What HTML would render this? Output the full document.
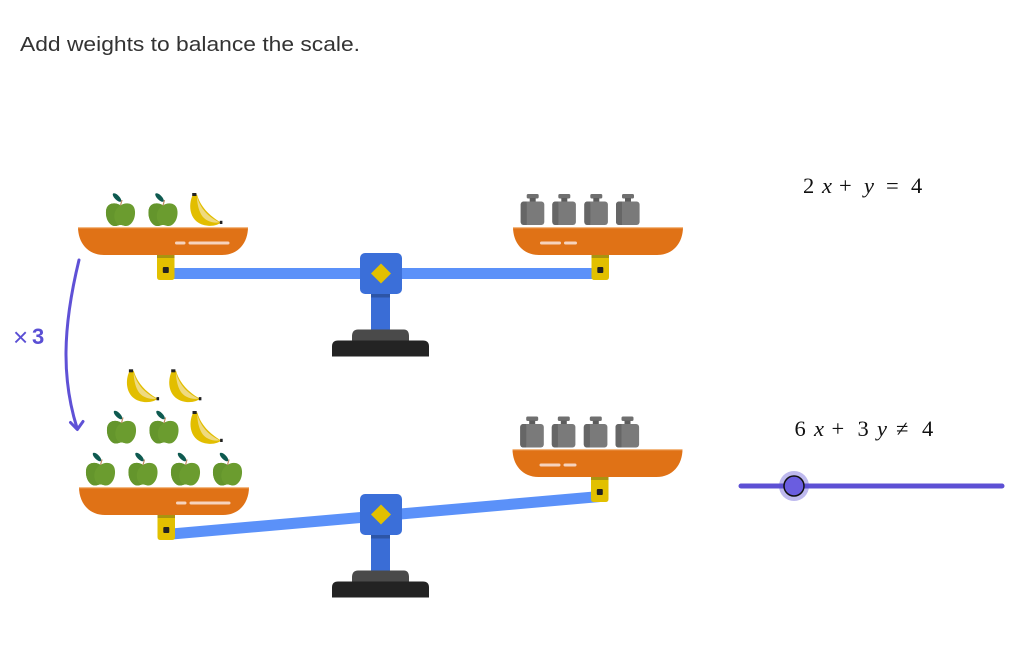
<!DOCTYPE html>
<html>
<head>
<meta charset="utf-8">
<style>
html,body{margin:0;padding:0;background:#fff;}
svg{display:block;}
</style>
</head>
<body>
<svg width="1032" height="645" viewBox="0 0 1032 645" xmlns="http://www.w3.org/2000/svg">
<defs>
  <g id="apple">
    <path d="M14.5,3.5 C11,0.5 0.5,-0.5 0,9.5 C-0.5,17.5 4,24 9,24 C11.5,24 12.5,23 14.5,23 C16.5,23 17.5,24 20,24 C25,24 29.5,17.5 29,9.5 C28.5,-0.5 18,0.5 14.5,3.5 Z" fill="#6b9c2f"/>
    <path d="M14.5,3.5 C11,0.5 0.5,-0.5 0,9.5 C-0.5,17.5 4,24 9,24 C11,24 12,23.3 13,23 C7,20 6,8 14.5,3.5Z" fill="#64952c"/>
    <line x1="14.5" y1="3.5" x2="16" y2="-2" stroke="#c08a60" stroke-width="1.2"/>
    <ellipse cx="11" cy="-4.5" rx="5.6" ry="2.3" transform="rotate(45 11 -4.5)" fill="#0e5a50"/>
  </g>
  <g id="banana">
    <path d="M4,1.5 C-1.5,12 0,31 19,32.8 C25,33.3 29.5,31.5 32,29.5 C24,25 12,16 8,1.5 Z" fill="#e2be00"/>
    <path d="M8,3.5 C11,15 19,24 30.5,29.3 C24,30.5 16,28 12.5,22 C9.5,17 8,10 8,3.5 Z" fill="#efda80"/>
    <rect x="3.2" y="0" width="4.2" height="3" fill="#222"/>
    <rect x="30.8" y="27.8" width="2.6" height="3.2" fill="#222"/>
  </g>
  <g id="weight">
    <rect x="6" y="0" width="12" height="4.5" rx="1.5" fill="#6f6f6f"/>
    <rect x="9" y="4" width="6" height="4" fill="#5c5c5c"/>
    <rect x="0" y="7.5" width="23.6" height="23.5" rx="3" fill="#7a7a7a"/>
    <rect x="0" y="7.5" width="6" height="23.5" rx="3" fill="#666"/>
    <rect x="3" y="7.5" width="3" height="23.5" fill="#666"/>
  </g>
  <g id="pan">
    <path d="M0,0 H170 C170,16 160,28 144,28 H26 C10,28 0,16 0,0 Z" fill="#e07216"/>
    <line x1="0" y1="0.6" x2="170" y2="0.6" stroke="#f3b983" stroke-width="1.2"/>
  </g>
  <g id="hanger">
    <path d="M0,0 H17.5 V22 Q17.5,25 14.5,25 H3 Q0,25 0,22 Z" fill="#e2c000"/>
    <rect x="0" y="0" width="17.5" height="3" fill="#a89410"/>
    <rect x="5.8" y="12" width="6" height="6" rx="1" fill="#222"/>
  </g>
  <g id="pivot">
    <rect x="-10" y="20" width="19" height="36" fill="#3a6dd6"/>
    <rect x="-10" y="20" width="19" height="4" fill="#2d55a6"/>
    <path d="M-29,63 Q-29,56 -23,56 H23 Q28,56 28,63 V67 H-29 Z" fill="#4a4a4a"/>
    <path d="M-49,73 Q-49,67 -43,67 H42 Q48,67 48,73 V83 H-49 Z" fill="#232323"/>
    <rect x="-21" y="-20.5" width="42" height="41" rx="5" fill="#3b6fd9"/>
    <path d="M0,-10 L10,0 L0,10 L-10,0 Z" fill="#e2c000"/>
  </g>
</defs>

<!-- title -->
<text x="20" y="51" font-family="Liberation Sans, sans-serif" font-size="20" fill="#333" textLength="340" lengthAdjust="spacingAndGlyphs">Add weights to balance the scale.</text>

<!-- ===== TOP SCALE ===== -->
<rect x="170" y="268" width="432" height="11" fill="#5b91f9"/>
<use href="#pan" x="78" y="227"/>
<line x1="176.5" y1="243" x2="184" y2="243" stroke="#f6d3bd" stroke-width="3" stroke-linecap="round"/>
<line x1="190" y1="243" x2="228" y2="243" stroke="#f6d3bd" stroke-width="3" stroke-linecap="round"/>
<use href="#hanger" x="157" y="255"/>
<use href="#pan" x="513" y="227"/>
<line x1="541.5" y1="243" x2="559.5" y2="243" stroke="#f6d3bd" stroke-width="3" stroke-linecap="round"/>
<line x1="565.5" y1="243" x2="575.5" y2="243" stroke="#f6d3bd" stroke-width="3" stroke-linecap="round"/>
<use href="#hanger" x="591.5" y="255"/>
<use href="#pivot" x="381" y="273.5"/>

<use href="#apple" x="106" y="202"/>
<use href="#apple" x="148.5" y="202"/>
<use href="#banana" x="189" y="193"/>

<use href="#weight" x="520.7" y="194"/>
<use href="#weight" x="552.3" y="194"/>
<use href="#weight" x="584.3" y="194"/>
<use href="#weight" x="616" y="194"/>

<!-- ===== BOTTOM SCALE ===== -->
<line x1="166" y1="534.5" x2="600" y2="496.5" stroke="#5b91f9" stroke-width="11"/>
<use href="#pan" x="79" y="487"/>
<line x1="177.5" y1="503" x2="185" y2="503" stroke="#f6d3bd" stroke-width="3" stroke-linecap="round"/>
<line x1="191" y1="503" x2="229" y2="503" stroke="#f6d3bd" stroke-width="3" stroke-linecap="round"/>
<use href="#hanger" x="157.5" y="515"/>
<use href="#pan" x="512.5" y="449"/>
<line x1="541" y1="465" x2="559" y2="465" stroke="#f6d3bd" stroke-width="3" stroke-linecap="round"/>
<line x1="565" y1="465" x2="575" y2="465" stroke="#f6d3bd" stroke-width="3" stroke-linecap="round"/>
<use href="#hanger" x="591" y="477"/>
<use href="#pivot" x="381" y="514.5"/>

<use href="#apple" x="86" y="461.5"/>
<use href="#apple" x="128.5" y="461.5"/>
<use href="#apple" x="171" y="461.5"/>
<use href="#apple" x="213" y="461.5"/>
<use href="#apple" x="107" y="419.5"/>
<use href="#apple" x="149.5" y="419.5"/>
<use href="#banana" x="189.3" y="411"/>
<use href="#banana" x="125.7" y="369.3"/>
<use href="#banana" x="168" y="369.3"/>

<use href="#weight" x="520.2" y="416.5"/>
<use href="#weight" x="551.8" y="416.5"/>
<use href="#weight" x="583.8" y="416.5"/>
<use href="#weight" x="615.5" y="416.5"/>

<!-- arrow ×3 -->
<path d="M79,260 C62,330 62,380 77,428" fill="none" stroke="#5f51d6" stroke-width="3" stroke-linecap="round"/>
<polyline points="70.5,422.5 77.3,429.5 83,421.5" fill="none" stroke="#5f51d6" stroke-width="3" stroke-linecap="round" stroke-linejoin="round"/>
<text x="13" y="346" font-family="Liberation Sans, sans-serif" font-size="26" fill="#5a4fd4">×</text>
<text x="32" y="344" font-family="Liberation Sans, sans-serif" font-size="22" font-weight="bold" fill="#5a4fd4">3</text>

<!-- equations -->
<g font-family="Liberation Serif, serif" font-size="22.5" fill="#111">
  <text x="803" y="193">2</text>
  <text x="822" y="193" font-style="italic">x</text>
  <text x="839" y="193">+</text>
  <text x="864" y="193" font-style="italic">y</text>
  <text x="886" y="193">=</text>
  <text x="911" y="193">4</text>

  <text x="794.5" y="436">6</text>
  <text x="814" y="436" font-style="italic">x</text>
  <text x="831.5" y="436">+</text>
  <text x="857.5" y="436">3</text>
  <text x="877" y="436" font-style="italic">y</text>
  <text x="896" y="436">≠</text>
  <text x="922" y="436">4</text>
</g>

<!-- slider -->
<line x1="741" y1="486" x2="1002" y2="486" stroke="#5d50d4" stroke-width="5" stroke-linecap="round"/>
<circle cx="794" cy="486" r="15" fill="#5d50d4" fill-opacity="0.4"/>
<circle cx="794" cy="486" r="10" fill="#6a5de0" stroke="#111" stroke-width="1.5"/>
</svg>
</body>
</html>
